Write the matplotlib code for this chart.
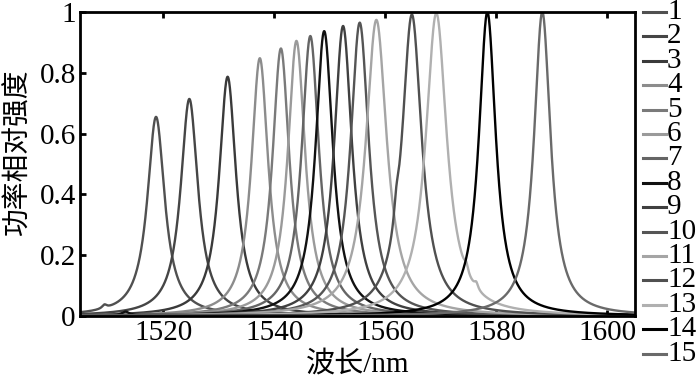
import numpy as np
import matplotlib
matplotlib.use("Agg")
import matplotlib.pyplot as plt
from matplotlib.lines import Line2D

# ---- data ----
labels = [str(i) for i in range(1, 16)]
peak_nm = [1518.7, 1524.7, 1531.6, 1537.4, 1541.2, 1544.0, 1546.5, 1549.0,
           1552.4, 1555.4, 1558.4, 1564.8, 1569.2, 1578.4, 1588.3]
peak_val = [0.655, 0.714, 0.787, 0.848, 0.880, 0.905, 0.921, 0.937,
            0.954, 0.965, 0.974, 0.990, 0.996, 1.000, 1.000]
fwhm_nm = [3.8, 3.8, 3.7, 3.7, 3.7, 3.8, 3.8, 3.8,
           3.9, 4.0, 4.6, 4.3, 4.6, 3.7, 3.6]
colors = ['#505050', '#454545', '#3a3a3a', '#8c8c8c', '#7a7a7a', '#9a9a9a',
          '#656565', '#111111', '#404040', '#555555', '#a5a5a5', '#505050',
          '#b0b0b0', '#000000', '#6a6a6a']
# small secondary features (series index, centre nm, height, width nm)
bump_series = [11, 12, 12, 7, 0]
bump_nm = [1562.0, 1574.6, 1576.4, 1513.2, 1509.4]
bump_val = [0.06, 0.025, 0.02, 0.012, 0.012]
bump_fwhm = [1.0, 0.8, 0.8, 1.5, 1.0]

x_ticks = [1520, 1540, 1560, 1580, 1600]
y_ticks = [0, 0.2, 0.4, 0.6, 0.8, 1]
y_ticklabels = ['0', '0.2', '0.4', '0.6', '0.8', '1']
x_label = '波长/nm'
y_label = '功率相对强度'

plt.rcParams['font.family'] = ['Liberation Serif', 'Noto Sans CJK SC', 'DejaVu Sans']

fig = plt.figure(figsize=(7.0, 3.79), dpi=100)
ax = fig.add_axes([80 / 700, 1 - 316 / 379, (635 - 80) / 700, (316 - 12) / 379])

wl = np.linspace(1505, 1605, 4000)
for i, (c, h, w, col, lab) in enumerate(zip(peak_nm, peak_val, fwhm_nm, colors, labels)):
    y = h / (1 + (2 * (wl - c) / w) ** 2)
    for s, bc, bh, bw in zip(bump_series, bump_nm, bump_val, bump_fwhm):
        if s == i:
            y = y + bh / (1 + (2 * (wl - bc) / bw) ** 2)
    ax.plot(wl, y, color=col, lw=1.7, label=lab)

ax.set_xlim(1505, 1605)
ax.set_ylim(0, 1)
ax.set_xticks(x_ticks)
ax.set_yticks(y_ticks)
ax.set_yticklabels(y_ticklabels)
ax.tick_params(direction='in', length=4, width=2, labelsize=21, top=True,
               right=False, pad=3, colors='black')
for s in ax.spines.values():
    s.set_linewidth(2)

fig.text(358 / 700, 1 - 364 / 379, x_label, ha='center', va='center',
         fontsize=21)
fig.text(18 / 700, 1 - 152 / 379, y_label, ha='center', va='center',
         rotation=90, fontsize=20)

# legend: short line + number, stacked right of the axes
leg_y0, leg_dy = 12, 24.4
for i, (lab, col) in enumerate(zip(labels, colors)):
    yy = 1 - (leg_y0 + leg_dy * i) / 379
    fig.add_artist(Line2D([643 / 700, 666 / 700], [yy, yy], color=col, lw=2.2,
                          transform=fig.transFigure))
    fig.text(667 / 700, yy, lab, ha='left', va='center', fontsize=21)

fig.savefig('out.png', dpi=100)
